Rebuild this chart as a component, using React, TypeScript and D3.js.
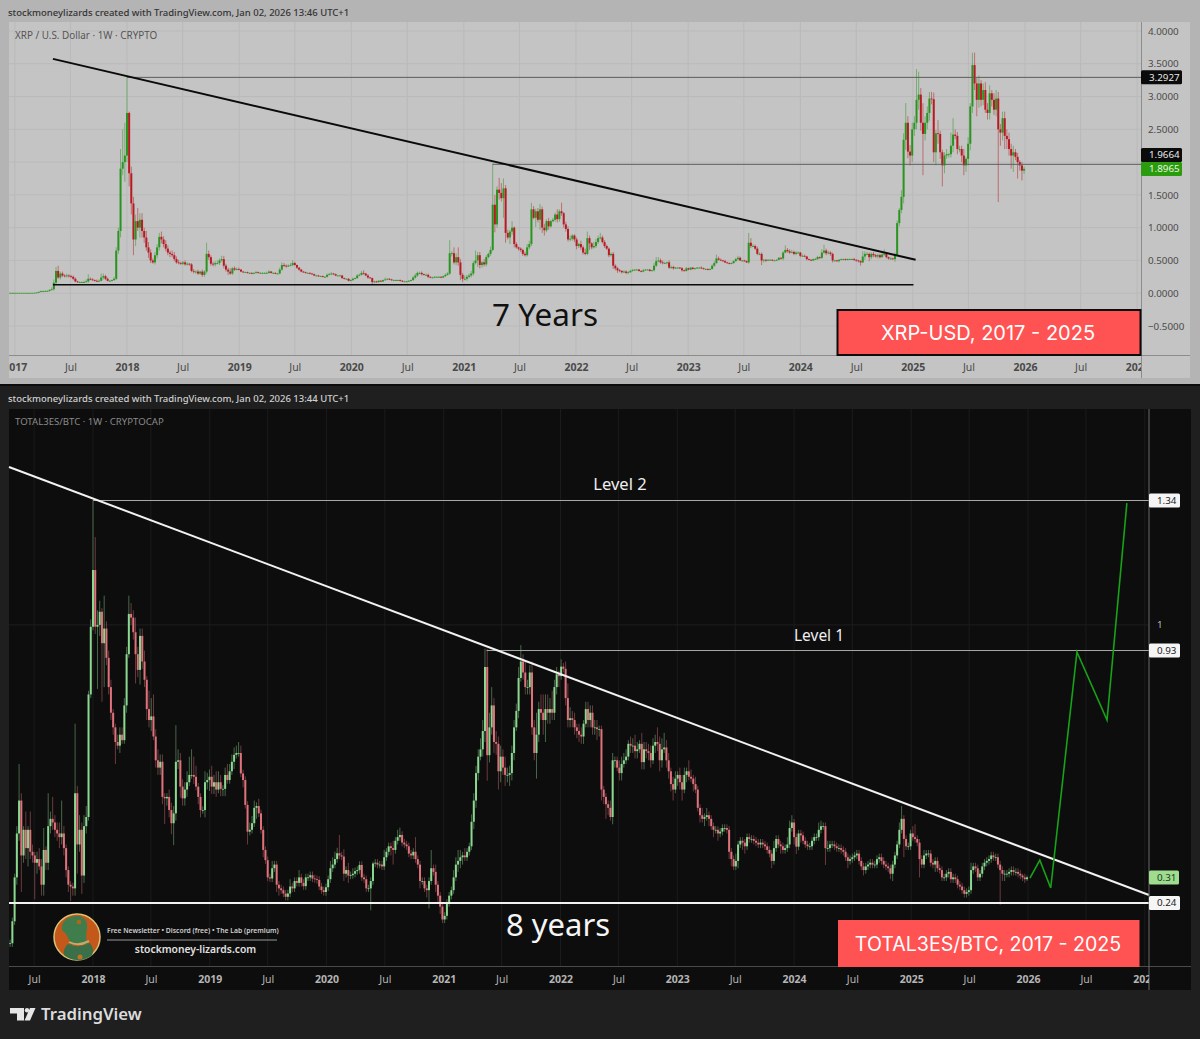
// @ts-nocheck
import React, { useEffect, useRef } from "react";
import * as d3 from "d3";

// XRP / USD weekly, first candle is the week of 2016-12-05
const xrpClose = [
  .006, .006, .006, .006,
  .006, .006, .006, .006, .006, .006, .006, .006, .006, .008, .01, .02, .03,
  .03, .035, .035, .05, .06, .16, .34, .24, .30, .27, .26, .27, .26,
  .25, .22, .18, .17, .17, .17, .17, .18, .22, .21, .20, .19, .18,
  .19, .24, .26, .22, .19, .19, .20, .22, .65, .95, 1.9, 2.0, 2.1,
  // 2018
  2.75, 1.83, 1.37, .82, 1.1, 1.0, 1.12, .95, .85, .7, .62, .50, .47,
  .58, .70, .86, .82, .75, .68, .62, .6, .58, .52, .47, .46, .45,
  .47, .44, .45, .44, .34, .33, .33, .30, .33, .28, .33, .6, .55,
  .45, .44, .46, .46, .50, .52, .42, .36, .33, .30, .38, .36, .37,
  // 2019
  .36, .33, .32, .32, .31, .31, .30, .31, .32, .31, .31, .31, .31,
  .31, .33, .31, .31, .30, .30, .36, .43, .42, .41, .42, .43, .46,
  .43, .39, .36, .33, .32, .31, .31, .30, .29, .27, .27, .26, .26,
  .25, .25, .28, .29, .30, .29, .27, .27, .27, .23, .22, .22, .19,
  // 2020
  .20, .22, .23, .27, .28, .31, .30, .27, .24, .23, .17, .18, .17,
  .19, .18, .20, .21, .22, .21, .20, .20, .20, .20, .19, .18, .18,
  .18, .19, .20, .24, .27, .31, .31, .29, .28, .28, .25, .24, .24,
  .25, .25, .25, .24, .26, .28, .30, .61, .61, .47, .55, .47, .28,
  // 2021
  .22, .22, .25, .27, .30, .46, .50, .58, .43, .47, .44, .55, .60,
  .66, 1.35, 1.05, 1.58, 1.53, 1.45, 1.6, .92, .85, .94, 1.0, .75, .70,
  .68, .66, .6, .58, .7, .75, 1.28, 1.15, 1.25, 1.12, 1.28, 1.0, .96,
  1.1, 1.02, 1.1, 1.12, 1.2, 1.13, 1.25, 1.22, 1.05, .98, .82, .83, .88,
  // 2022
  .82, .72, .75, .70, .62, .60, .84, .76, .70, .72, .78, .84, .85,
  .78, .72, .68, .58, .60, .42, .38, .35, .34, .32, .33, .31, .32,
  .34, .35, .36, .36, .34, .33, .35, .36, .36, .34, .35, .42, .49,
  .50, .47, .46, .46, .47, .39, .40, .38, .39, .39, .38, .35, .34,
  // 2023
  .38, .36, .39, .37, .38, .39, .39, .38, .37, .37, .36, .37, .42,
  .46, .53, .51, .50, .49, .47, .46, .45, .46, .49, .52, .54, .50,
  .50, .49, .47, .77, .72, .72, .68, .60, .60, .50, .51, .50, .51,
  .51, .50, .50, .51, .54, .53, .62, .66, .64, .62, .63, .60, .62,
  // 2024
  .62, .57, .57, .56, .52, .51, .50, .52, .52, .55, .54, .62, .65,
  .61, .62, .60, .50, .50, .49, .51, .52, .52, .51, .52, .52, .52,
  .51, .50, .49, .47, .56, .60, .60, .55, .60, .58, .56, .58, .55,
  .59, .60, .55, .53, .53, .52, .58, 1.07, 1.27, 1.47, 2.34, 2.60, 2.16,
  // 2025
  2.10, 2.50, 2.60, 2.95, 3.03, 2.60, 2.43, 2.60, 2.75, 2.97, 2.96, 2.15, 2.44,
  2.43, 2.15, 1.95, 2.10, 2.12, 2.12, 2.25, 2.42, 2.40, 2.20, 2.20, 2.10, 1.95,
  2.05, 2.28, 2.85, 3.48, 3.20, 2.95, 3.20, 2.95, 3.10, 2.80, 2.75, 3.05, 2.95,
  2.80, 2.97, 2.50, 2.45, 2.67, 2.40, 2.35, 2.20, 2.10, 2.15, 2.08, 2.00, 1.95, 1.87, 1.8965,
];

const xrpWickUp = [
  0, 0, 0, 0,
  0, 0, 0, 0, 0, 0, 0, 0, 0, 0, .004, .01, .01,
  .01, .01, .01, .01, .03, .05, .06, .08, .03, .03, .02, .03, .02,
  .02, .02, .02, .01, .01, .01, .02, .03, .07, .02, .02, .01, .02,
  .02, .06, .04, .02, .02, .01, .01, .03, .05, .05, .3, .5, .5,
  // 2018
  .55, .02, .1, .1, .1, .2, .1, .1, .05, .1, .08, .05, .03,
  .05, .05, .06, .08, .05, .06, .05, .03, .05, .05, .04, .04, .02,
  .02, .03, .02, .01, .02, .03, .02, .03, .01, .03, .02, .17, .05,
  .03, .03, .03, .04, .03, .05, .05, .03, .03, .05, .02, .03, .02,
  // 2019
  .02, .01, .01, .01, .01, .01, .01, .01, .02, .01, .01, .01, .01,
  .02, .02, .01, .01, .01, .01, .03, .04, .03, .02, .02, .03, .04,
  .02, .01, .01, .01, .01, .01, .01, .01, .01, .01, .01, .01, .01,
  .01, .01, .02, .02, .02, .01, .01, .01, .01, .01, .01, .01, .01,
  // 2020
  .01, .02, .01, .02, .02, .03, .04, .01, .02, .01, .01, .01, .01,
  .01, .01, .01, .03, .01, .01, .01, .01, .01, .01, .01, .01, .01,
  .01, .01, .01, .02, .03, .02, .02, .02, .01, .02, .02, .01, .01,
  .01, .01, .01, .01, .01, .02, .02, .20, .03, .09, .06, .15, .05,
  // 2021
  .03, .05, .03, .03, .04, .03, .15, .05, .05, .02, .05, .03, .02,
  .05, .63, .15, .05, .18, .15, .15, .05, .05, .03, .1, .02, .03,
  .01, .02, .02, .03, .05, .05, .1, .05, .04, .05, .08, .04, .06,
  .03, .05, .02, .03, .03, .08, .03, .13, .02, .04, .04, .05, .02,
  // 2022
  .02, .03, .02, .05, .03, .06, .1, .04, .02, .06, .05, .04, .07,
  .03, .03, .02, .02, .02, .03, .02, .02, .02, .01, .02, .02, .02,
  .02, .02, .01, .01, .01, .01, .02, .01, .01, .01, .01, .04, .06,
  .05, .03, .03, .02, .01, .03, .02, .02, .01, .01, .01, .02, .01,
  // 2023
  .02, .01, .01, .01, .01, .01, .01, .02, .01, .01, .01, .01, .02,
  .03, .06, .03, .02, .01, .02, .01, .01, .01, .01, .02, .03, .02,
  .01, .01, .01, .15, .07, .03, .02, .03, .02, .02, .01, .01, .01,
  .01, .01, .01, .01, .01, .01, .02, .07, .03, .03, .03, .02, .02,
  // 2024
  .02, .01, .02, .02, .01, .01, .01, .01, .02, .02, .01, .05, .09,
  .03, .03, .02, .02, .01, .01, .01, .01, .01, .01, .01, .01, .01,
  .02, .01, .01, .01, .08, .04, .03, .02, .02, .03, .02, .02, .02,
  .02, .07, .02, .01, .02, .01, .04, .04, .03, .1, .1, .30, .1,
  // 2025
  .1, .1, .1, .47, .35, .1, .3, .1, .1, .1, .1, .1, .05,
  .2, .05, .04, .05, .08, .02, .2, .25, .08, .06, .05, .05, .1,
  .03, .1, .05, .19, .19, .08, .12, .05, .1, .12, .1, .12, .05,
  .1, .13, .1, .08, .1, .1, .1, .1, .08, .1, .05, .06, .03, .05, .03,
];

const xrpWickDown = [
  0, 0, 0, 0,
  0, 0, 0, 0, 0, 0, 0, 0, 0, 0, .002, .005, .005,
  .005, .005, .005, .01, .01, .02, .03, .02, .03, .02, .02, .02, .02,
  .02, .02, .01, .01, .01, .01, .01, .01, .02, .01, .01, .01, .01,
  .01, .01, .03, .02, .01, .01, .01, .01, .02, .05, .1, .1, .3,
  // 2018
  .1, .2, .17, .24, .1, .05, .15, .1, .08, .05, .08, .04, .02,
  .03, .05, .05, .06, .05, .04, .04, .05, .03, .03, .02, .02, .02,
  .02, .02, .02, .02, .02, .03, .03, .02, .02, .03, .03, .03, .04,
  .03, .03, .03, .02, .03, .02, .04, .03, .05, .02, .02, .02, .01,
  // 2019
  .01, .01, .01, .01, .01, .01, .01, .01, .01, .01, .01, .01, .01,
  .01, .01, .01, .01, .01, .01, .01, .02, .02, .02, .01, .01, .02,
  .01, .02, .02, .01, .01, .01, .01, .01, .01, .01, .01, .01, .01,
  .01, .01, .01, .01, .01, .01, .01, .01, .01, .01, .01, .01, .01,
  // 2020
  .01, .01, .01, .01, .01, .01, .02, .01, .02, .01, .04, .02, .01,
  .01, .01, .01, .01, .01, .01, .01, .01, .01, .01, .01, .01, .01,
  .01, .01, .01, .01, .02, .02, .02, .02, .01, .01, .02, .01, .01,
  .01, .01, .01, .01, .01, .01, .01, .02, .05, .03, .04, .05, .08,
  // 2021
  .05, .02, .03, .02, .03, .03, .02, .1, .05, .04, .03, .03, .02,
  .03, .02, .12, .05, .1, .05, .3, .15, .03, .1, .05, .05, .02,
  .03, .03, .03, .02, .02, .03, .03, .02, .14, .04, .15, .08, .08,
  .03, .05, .02, .02, .03, .05, .04, .04, .05, .04, .03, .03, .03,
  // 2022
  .04, .05, .03, .04, .03, .02, .02, .1, .03, .02, .03, .03, .02,
  .02, .03, .02, .03, .02, .05, .03, .04, .02, .02, .01, .02, .02,
  .01, .01, .01, .01, .01, .01, .01, .01, .01, .01, .01, .02, .02,
  .02, .02, .02, .01, .02, .02, .02, .02, .01, .01, .01, .02, .01,
  // 2023
  .01, .01, .01, .01, .01, .01, .01, .01, .01, .01, .01, .01, .01,
  .02, .01, .01, .01, .01, .01, .01, .01, .01, .01, .01, .02, .01,
  .02, .01, .01, .02, .03, .01, .02, .02, .02, .07, .03, .02, .01,
  .01, .01, .01, .01, .01, .02, .03, .01, .02, .02, .01, .02, .02,
  // 2024
  .02, .02, .01, .01, .02, .01, .01, .01, .01, .01, .02, .02, .02,
  .03, .02, .03, .03, .02, .01, .02, .01, .02, .01, .01, .01, .01,
  .02, .02, .02, .05, .01, .05, .02, .06, .03, .03, .02, .03, .02,
  .01, .02, .02, .02, .02, .01, .04, .02, .05, .05, .1, .15, .1,
  // 2025
  .15, .1, .1, .1, .15, .12, .63, .1, .1, .12, .08, .15, .2,
  .15, .1, .32, .12, .05, .05, .05, .1, .05, .08, .05, .1, .15,
  .1, .1, .1, .1, .1, .25, .12, .1, .08, .05, .1, .1, .1,
  .08, .1, 1.11, .2, .12, .2, .15, .1, .2, .25, .05, .25, .08, .15, .05,
];

// TOTAL3ES/BTC weekly, first candle is the week of 2017-04-17
const altClose = [
  .13, .19, .31, .43, .52, .37, .44, .39, .44, .38, .37, .35, .36,
  .34, .29, .385, .35, .45, .47, .46, .44, .43, .42, .43, .39, .33,
  .29, .285, .28, .54, .40, .44, .315, .45, .475, .81, .995, 1.15, .995,
  1.0, 1.036, .95, .99, .91, .83, .76, .72, .68, .67, .70, .685, .78,
  .92, 1.03, 1.02, .98, .92, .877, .97, .90, .85, .77, .74, .75, .695,
  .63, .61, .626, .53, .526, .53, .494, .458, .485, .626, .63, .558, .526,
  .55, .57, .59, .59, .585, .558, .53, .494, .494, .57, .576, .585, .558,
  .57, .55, .57, .552, .552, .59, .576, .60, .626, .645, .65, .65, .594,
  .576, .508, .435, .44, .458, .50, .505, .485, .44, .385, .357, .31, .307,
  .335, .345, .29, .28, .275, .266, .257, .266, .285, .28, .30, .295, .31,
  .295, .286, .31, .31, .316, .307, .305, .303, .285, .275, .27, .283, .305,
  .335, .345, .36, .376, .37, .367, .32, .33, .315, .316, .32, .327, .33,
  .344, .31, .305, .28, .28, .30, .348, .35, .345, .345, .34, .365, .38,
  .395, .39, .385, .41, .42, .426, .405, .40, .395, .375, .37, .38, .36,
  .345, .30, .30, .28, .275, .30, .335, .325, .29, .26, .23, .195, .205,
  .24, .26, .275, .31, .345, .355, .365, .37, .365, .38, .395, .462, .52,
  .595, .64, .66, .71, .885, .644, .72, .78, .68, .675, .60, .64, .61,
  .59, .59, .595, .65, .72, .765, .855, .90, .87, .83, .83, .87, .72,
  .65, .70, .77, .76, .74, .77, .76, .77, .76, .83, .865, .86, .886,
  .88, .80, .74, .745, .74, .72, .71, .70, .695, .73, .77, .74, .76,
  .72, .72, .715, .715, .55, .53, .51, .50, .475, .63, .63, .61, .595,
  .62, .63, .64, .675, .67, .67, .655, .66, .675, .625, .66, .655, .65,
  .63, .67, .68, .675, .63, .66, .665, .63, .60, .565, .55, .58, .59,
  .57, .55, .59, .60, .585, .58, .565, .55, .50, .48, .47, .475, .48,
  .47, .45, .44, .44, .43, .435, .445, .445, .44, .38, .36, .34, .355,
  .40, .41, .405, .395, .42, .415, .415, .41, .405, .40, .405, .40, .395,
  .385, .375, .355, .39, .415, .40, .395, .385, .39, .40, .445, .46, .42,
  .394, .43, .425, .41, .40, .395, .395, .41, .42, .42, .44, .45, .45,
  .39, .39, .40, .40, .395, .39, .39, .385, .38, .365, .355, .36, .365,
  .37, .375, .355, .34, .33, .34, .345, .35, .345, .345, .36, .365, .355,
  .345, .34, .335, .32, .345, .37, .40, .44, .47, .415, .395, .395, .43,
  .42, .415, .405, .36, .345, .37, .375, .375, .35, .345, .355, .335, .33,
  .31, .31, .32, .325, .305, .31, .305, .29, .285, .275, .265, .27, .275,
  .33, .34, .335, .31, .32, .34, .35, .355, .36, .37, .365, .365, .345,
  .33, .32, .32, .32, .325, .33, .325, .325, .32, .315, .31, .305, .31,
];

const altWickUp = [
  .01, .01, .01, .02, .10, .02, .01, .05, .01, .05, .02, .01, .02,
  .03, .02, .06, .01, .09, .02, .06, .02, .02, .03, .09, .02, .01,
  .01, .01, .01, .19, .02, .04, .02, .03, .03, .01, .02, .19, .09,
  .04, .03, .01, .09, .02, .02, .02, .01, .01, .02, .02, .02, .02,
  .02, .05, .03, .02, .04, .02, .02, .02, .03, .01, .05, .05, .06,
  .02, .03, .02, .02, .01, .01, .02, .02, .02, .10, .03, .02, .02,
  .02, .03, .05, .07, .05, .03, .01, .01, .01, .03, .02, .02, .03,
  .02, .03, .03, .02, .01, .02, .03, .02, .02, .02, .02, .03, .02,
  .01, .01, .01, .02, .02, .02, .01, .02, .01, .01, .01, .01, .01,
  .02, .01, .01, .01, .01, .01, .01, .01, .02, .01, .01, .01, .02,
  .01, .01, .01, .01, .01, .01, .01, .01, .01, .01, .01, .01, .01,
  .02, .02, .02, .015, .05, .01, .02, .01, .02, .01, .015, .01, .01,
  .01, .01, .01, .01, .01, .01, .005, .01, .01, .01, .01, .02, .01,
  .01, .01, .02, .01, .02, .02, .01, .01, .01, .01, .01, .01, .04,
  .01, .01, .01, .01, .01, .01, .05, .01, .02, .01, .01, .01, .01,
  .01, .01, .01, .02, .02, .03, .02, .01, .02, .01, .01, .02, .02,
  .02, .02, .03, .03, .05, .05, .04, .05, .02, .03, .02, .03, .02,
  .03, .02, .02, .02, .02, .02, .03, .045, .02, .03, .02, .02, .03,
  .02, .06, .02, .04, .05, .04, .04, .03, .05, .02, .02, .01, .02,
  .01, .02, .04, .03, .02, .02, .01, .02, .02, .01, .02, .02, .02,
  .02, .02, .02, .01, .01, .01, .01, .01, .02, .02, .01, .01, .02,
  .02, .02, .02, .01, .02, .02, .03, .02, .01, .03, .02, .02, .02,
  .02, .02, .02, .04, .02, .03, .04, .02, .02, .01, .02, .02, .01,
  .02, .02, .02, .01, .03, .02, .01, .02, .01, .01, .02, .01, .02,
  .01, .01, .01, .01, .01, .01, .01, .01, .01, .01, .01, .01, .02,
  .01, .01, .01, .01, .01, .01, .01, .01, .01, .01, .01, .01, .01,
  .01, .01, .01, .02, .01, .01, .01, .01, .01, .02, .02, .02, .01,
  .01, .01, .01, .01, .01, .01, .01, .01, .01, .01, .02, .015, .01,
  .01, .02, .01, .01, .01, .01, .01, .01, .01, .01, .01, .01, .01,
  .01, .01, .01, .01, .01, .01, .01, .01, .01, .01, .01, .01, .01,
  .01, .01, .01, .01, .01, .01, .01, .02, .035, .01, .01, .01, .01,
  .02, .035, .01, .01, .01, .015, .01, .01, .01, .01, .01, .01, .01,
  .01, .01, .01, .01, .01, .01, .01, .01, .01, .01, .01, .01, .01,
  .02, .01, .01, .01, .01, .01, .01, .01, .01, .01, .01, .01, .01,
  .01, .01, .01, .01, .01, .01, .01, .01, .01, .01, .005, .01, .005,
];

const altWickDown = [
  .01, .01, .01, .02, .02, .10, .02, .03, .05, .02, .02, .10, .03,
  .01, .03, .03, .02, .02, .02, .02, .02, .02, .03, .02, .02, .02,
  .02, .04, .02, .02, .08, .02, .05, .02, .02, .01, .01, .01, .02,
  .17, .03, .16, .12, .02, .02, .02, .02, .06, .01, .02, .01, .01,
  .02, .01, .02, .02, .08, .02, .04, .02, .02, .03, .02, .03, .01,
  .02, .02, .02, .02, .07, .02, .02, .03, .06, .02, .02, .03, .02,
  .02, .02, .01, .01, .02, .01, .02, .02, .01, .02, .02, .03, .02,
  .02, .02, .01, .02, .02, .02, .01, .01, .01, .02, .01, .01, .01,
  .02, .01, .035, .01, .01, .01, .03, .01, .01, .02, .01, .01, .01,
  .01, .01, .02, .02, .01, .01, .01, .01, .01, .01, .01, .01, .01,
  .01, .01, .01, .01, .01, .01, .01, .01, .01, .01, .01, .01, .01,
  .01, .01, .01, .01, .01, .01, .02, .01, .02, .01, .01, .01, .01,
  .01, .01, .01, .01, .01, .06, .01, .01, .01, .01, .01, .01, .01,
  .01, .02, .04, .01, .01, .01, .01, .01, .01, .01, .01, .01, .01,
  .01, .02, .01, .01, .02, .05, .01, .01, .02, .02, .02, .01, .01,
  .01, .01, .01, .01, .01, .02, .02, .02, .01, .01, .01, .01, .02,
  .02, .02, .01, .02, .03, .07, .02, .02, .03, .03, .05, .03, .02,
  .03, .02, .03, .02, .02, .01, .02, .01, .02, .02, .02, .02, .02,
  .02, .07, .02, .02, .04, .06, .03, .03, .02, .02, .02, .03, .01,
  .01, .02, .02, .02, .02, .02, .02, .02, .02, .02, .01, .02, .02,
  .02, .02, .03, .02, .03, .02, .04, .02, .01, .02, .02, .01, .02,
  .02, .01, .01, .01, .02, .02, .02, .02, .01, .02, .02, .02, .02,
  .02, .01, .02, .02, .03, .02, .01, .02, .02, .02, .03, .01, .02,
  .02, .03, .01, .02, .01, .01, .02, .01, .01, .02, .01, .02, .01,
  .02, .01, .02, .01, .02, .01, .01, .01, .01, .02, .02, .01, .01,
  .02, .01, .02, .02, .01, .01, .01, .01, .01, .01, .01, .01, .01,
  .01, .01, .02, .01, .01, .01, .02, .01, .01, .01, .01, .01, .02,
  .02, .01, .02, .01, .01, .01, .01, .01, .01, .01, .01, .01, .01,
  .046, .01, .01, .01, .01, .01, .01, .01, .01, .01, .02, .01, .01,
  .01, .01, .01, .01, .015, .01, .01, .01, .01, .01, .01, .01, .01,
  .01, .01, .01, .015, .02, .01, .01, .01, .01, .05, .01, .01, .01,
  .01, .01, .01, .05, .01, .01, .01, .01, .01, .01, .02, .01, .01,
  .01, .01, .01, .01, .01, .01, .01, .01, .01, .01, .01, .01, .01,
  .01, .01, .01, .01, .01, .01, .01, .01, .01, .01, .01, .01, .01,
  .095, .02, .02, .01, .01, .01, .01, .01, .01, .01, .01, .01, .005,
];

const xrpTrendDates = [new Date(2017, 4, 5), new Date(2025, 0, 10)];
const xrpTrendValues = [3.575, 0.51];
const xrpBaseDates = [new Date(2017, 4, 5), new Date(2025, 0, 3)];
const xrpBaseValue = 0.13;
const forecastDates = [
  new Date(2026, 0, 7),
  new Date(2026, 1, 7),
  new Date(2026, 2, 13),
  new Date(2026, 5, 3),
  new Date(2026, 8, 5),
  new Date(2026, 10, 6),
];
const forecastValues = [0.308, 0.357, 0.281, 0.926, 0.74, 1.333];

const xrpPriceTicks = [4, 3.5, 3, 2.5, 2, 1.5, 1, 0.5, 0, -0.5];
const timeTicks = d3.range(2017, 2028).flatMap((yr) => [
  new Date(yr, 0, 1),
  new Date(yr, 6, 1),
]);

const buildCandles = (closes, up, down, weeksBefore2018) =>
  closes.map((close, i) => {
    const open = i ? closes[i - 1] : close;
    return {
      date: d3.timeWeek.offset(new Date(2018, 0, 1), i - weeksBefore2018),
      open,
      close,
      high: Math.max(open, close) + (up[i] || 0),
      low: Math.max(0, Math.min(open, close) - (down[i] || 0)),
    };
  });

const drawCandles = (g, data, x, y, upColor, downColor, wickOpacity) => {
  const color = (d) => (d.close >= d.open ? upColor : downColor);
  g.style("filter", "blur(0.3px)");
  g.selectAll(".wick")
    .data(data)
    .join("line")
    .attr("x1", (d) => x(d.date))
    .attr("x2", (d) => x(d.date))
    .attr("y1", (d) => y(d.high))
    .attr("y2", (d) => y(d.low))
    .attr("stroke", color)
    .attr("stroke-opacity", wickOpacity)
    .attr("stroke-width", 1);
  g.selectAll(".body")
    .data(data)
    .join("rect")
    .attr("x", (d) => x(d.date) - 1)
    .attr("width", 2)
    .attr("y", (d) => y(Math.max(d.open, d.close)))
    .attr("height", (d) =>
      Math.max(0.8, Math.abs(y(d.open) - y(d.close))),
    )
    .attr("fill", color);
};

const drawTimeAxis = (svg, x, y, color, clipId, x0, x1) => {
  const axis = d3
    .axisBottom(x)
    .tickValues(timeTicks.filter((d) => x(d) > x0 - 12 && x(d) < x1 + 12))
    .tickSize(0)
    .tickPadding(0)
    .tickFormat((d) => (d.getMonth() === 0 ? d.getFullYear() : "Jul"));
  const g = svg
    .append("g")
    .attr("clip-path", `url(#${clipId})`)
    .append("g")
    .attr("transform", `translate(0,${y})`)
    .call(axis);
  g.select(".domain").remove();
  g.selectAll("text")
    .attr("font-family", "Noto Sans")
    .attr("font-size", 10.5)
    .attr("font-weight", (d) => (d.getMonth() === 0 ? 700 : 400))
    .attr("fill", color);
};

const addText = (svg, x, y, str, size, color, opts = {}) =>
  svg
    .append("text")
    .attr("x", x)
    .attr("y", y)
    .attr("font-family", opts.family || "Noto Sans")
    .attr("font-size", size)
    .attr("font-weight", opts.weight || 400)
    .attr("text-anchor", opts.anchor || "start")
    .attr("fill", color)
    .text(str);

const priceLabel = (svg, x0, x1, yc, str, fill, color) => {
  svg
    .append("rect")
    .attr("x", x0)
    .attr("y", yc - 7)
    .attr("width", x1 - x0)
    .attr("height", 14)
    .attr("rx", 1.5)
    .attr("fill", fill);
  addText(svg, x0 + 8, yc + 3.4, str, 9.8, color);
};

const App = () => {
  const svgRef = useRef();

  useEffect(() => {
    const svg = d3.select(svgRef.current);
    svg.selectAll("*").remove();

    const defs = svg.append("defs");
    const clip = (id, x, y, w, h) =>
      defs
        .append("clipPath")
        .attr("id", id)
        .append("rect")
        .attr("x", x)
        .attr("y", y)
        .attr("width", w)
        .attr("height", h);
    clip("top-time", 9, 356, 1132, 22);
    clip("alt-time", 9, 967, 1140, 23);
    clip("top-plot", 9, 22, 1132, 333);
    clip("alt-plot", 9, 409, 1140, 557);

    // ---- backgrounds
    svg.append("rect").attr("width", 1200).attr("height", 1039).attr("fill", "#1f1f1f");
    svg.append("rect").attr("width", 1200).attr("height", 384).attr("fill", "#b4b4b4");
    svg.append("rect").attr("x", 9).attr("y", 22).attr("width", 1181).attr("height", 356).attr("fill", "#c4c4c4");
    svg.append("rect").attr("x", 0).attr("y", 384).attr("width", 1200).attr("height", 2).attr("fill", "#0c0c0c");
    svg.append("rect").attr("x", 9).attr("y", 409).attr("width", 1182).attr("height", 581).attr("fill", "#0d0d0d");

    // ---- XRP panel
    const xTop = d3
      .scaleTime()
      .domain([new Date(2018, 0, 1), new Date(2026, 0, 1)])
      .range([127, 1025]);
    const yTop = d3.scaleLinear().domain([4, -0.5]).range([31, 326]);

    const gridTop = svg.append("g").attr("clip-path", "url(#top-plot)");
    gridTop
      .selectAll(".v")
      .data(timeTicks)
      .join("line")
      .attr("x1", (d) => xTop(d))
      .attr("x2", (d) => xTop(d))
      .attr("y1", 22)
      .attr("y2", 355)
      .attr("stroke", "#b9b9b9");
    gridTop
      .selectAll(".h")
      .data(xrpPriceTicks)
      .join("line")
      .attr("x1", 9)
      .attr("x2", 1141)
      .attr("y1", (d) => yTop(d))
      .attr("y2", (d) => yTop(d))
      .attr("stroke", "#bababa");

    drawCandles(
      svg.append("g").attr("clip-path", "url(#top-plot)"),
      buildCandles(xrpClose, xrpWickUp, xrpWickDown, 56),
      xTop,
      yTop,
      "#2a9420",
      "#b81a22",
      0.5,
    );

    // levels
    const levels = [
      { from: new Date(2018, 0, 1), value: 3.2927 },
      { from: new Date(2021, 3, 5), value: 1.9664 },
    ];
    svg
      .selectAll(".lvl")
      .data(levels)
      .join("line")
      .attr("x1", (d) => xTop(d.from))
      .attr("x2", 1141)
      .attr("y1", (d) => yTop(d.value))
      .attr("y2", (d) => yTop(d.value))
      .attr("stroke", "#5c5c5c")
      .attr("stroke-width", 1);

    const topLine = d3
      .line()
      .x((d) => xTop(d[0]))
      .y((d) => yTop(d[1]));
    svg
      .append("path")
      .attr("d", topLine(d3.zip(xrpTrendDates, xrpTrendValues)))
      .attr("fill", "none")
      .attr("stroke", "#0a0a0a")
      .attr("stroke-width", 2);
    svg
      .append("path")
      .attr("d", topLine(xrpBaseDates.map((d) => [d, xrpBaseValue])))
      .attr("fill", "none")
      .attr("stroke", "#0a0a0a")
      .attr("stroke-width", 1.6);

    // axis frame
    svg.append("line").attr("x1", 1141.5).attr("x2", 1141.5).attr("y1", 22).attr("y2", 378).attr("stroke", "#8c8c8c");
    svg.append("line").attr("x1", 9).attr("x2", 1190).attr("y1", 355.5).attr("y2", 355.5).attr("stroke", "#8c8c8c");

    const yAxisTop = svg
      .append("g")
      .attr("transform", "translate(1141,0)")
      .call(
        d3
          .axisRight(yTop)
          .tickValues(xrpPriceTicks)
          .tickSize(0)
          .tickPadding(7)
          .tickFormat((d) => (d < 0 ? "\u2212" : "") + Math.abs(d).toFixed(4)),
      );
    yAxisTop.select(".domain").remove();
    yAxisTop
      .selectAll("text")
      .attr("font-family", "Noto Sans")
      .attr("font-size", 9.8)
      .attr("fill", "#4a4a4a");

    drawTimeAxis(svg, xTop, 364, "#4a4a4a", "top-time", 9, 1141);

    priceLabel(svg, 1141, 1182, yTop(3.2927), "3.2927", "#0b0b0b", "#e8e8e8");
    priceLabel(svg, 1141, 1182, yTop(1.8965) - 14, "1.9664", "#0b0b0b", "#e8e8e8");
    priceLabel(svg, 1141, 1182, yTop(1.8965), "1.8965", "#2b9c0e", "#e8f5e0");

    addText(svg, 8, 16, "stockmoneylizards created with TradingView.com, Jan 02, 2026 13:46 UTC+1", 9.5, "#333333", { weight: 500 });
    addText(svg, 15, 38.5, "XRP / U.S. Dollar \u00b7 1W \u00b7 CRYPTO", 9.9, "#555555");
    addText(svg, 545, 326, "7 Years", 31.5, "#111111", { anchor: "middle" });

    svg.append("rect").attr("x", 837.5).attr("y", 310).attr("width", 303).attr("height", 45).attr("fill", "#ff5252").attr("stroke", "#0c0c0c").attr("stroke-width", 2);
    addText(svg, 988, 340, "XRP-USD, 2017 - 2025", 20, "#ffffff", { anchor: "middle", family: "Inter" });

    // ---- TOTAL3ES/BTC panel
    const xAlt = d3
      .scaleTime()
      .domain([new Date(2018, 0, 1), new Date(2026, 0, 1)])
      .range([93, 1028]);
    const yAlt = d3.scaleLinear().domain([1.34, 0.24]).range([500.5, 903]);

    const gridAlt = svg.append("g").attr("clip-path", "url(#alt-plot)");
    gridAlt
      .selectAll(".v")
      .data(timeTicks)
      .join("line")
      .attr("x1", (d) => xAlt(d))
      .attr("x2", (d) => xAlt(d))
      .attr("y1", 409)
      .attr("y2", 966)
      .attr("stroke", "#1b1b1b");
    gridAlt
      .append("line")
      .attr("x1", 9)
      .attr("x2", 1149)
      .attr("y1", yAlt(1))
      .attr("y2", yAlt(1))
      .attr("stroke", "#1e1e1e");

    drawCandles(
      svg.append("g").attr("clip-path", "url(#alt-plot)"),
      buildCandles(altClose, altWickUp, altWickDown, 37),
      xAlt,
      yAlt,
      "#8bd890",
      "#e0727c",
      0.45,
    );

    svg
      .selectAll(".altlvl")
      .data([
        { from: new Date(2018, 0, 1), value: 1.34 },
        { from: new Date(2021, 4, 15), value: 0.93 },
      ])
      .join("line")
      .attr("x1", (d) => xAlt(d.from))
      .attr("x2", 1149)
      .attr("y1", (d) => yAlt(d.value))
      .attr("y2", (d) => yAlt(d.value))
      .attr("stroke", "#a8a8a8")
      .attr("stroke-width", 1);

    svg.append("line").attr("x1", 9).attr("x2", 1149).attr("y1", yAlt(0.24)).attr("y2", yAlt(0.24)).attr("stroke", "#f2f2f2").attr("stroke-width", 2);
    // white resistance, ends on the price axis
    svg.append("line").attr("x1", 9).attr("y1", 467).attr("x2", 1149).attr("y2", 895).attr("stroke", "#f2f2f2").attr("stroke-width", 2);

    svg
      .append("path")
      .attr(
        "d",
        d3
          .line()
          .x((d) => xAlt(d[0]))
          .y((d) => yAlt(d[1]))(d3.zip(forecastDates, forecastValues)),
      )
      .attr("fill", "none")
      .attr("stroke", "#17a317")
      .attr("stroke-width", 1.6);

    svg.append("line").attr("x1", 9).attr("x2", 1191).attr("y1", 966.5).attr("y2", 966.5).attr("stroke", "#4a4a4a");
    svg.append("line").attr("x1", 1149).attr("x2", 1149).attr("y1", 409).attr("y2", 990).attr("stroke", "#6a6a6a");

    drawTimeAxis(svg, xAlt, 975.5, "#b5b5b5", "alt-time", 9, 1149);

    addText(svg, 1157, yAlt(1) + 3.5, "1", 9.8, "#b5b5b5");
    priceLabel(svg, 1149, 1180, yAlt(1.34), "1.34", "#f5f5f5", "#1a1a1a");
    priceLabel(svg, 1149, 1180, yAlt(0.93), "0.93", "#f5f5f5", "#1a1a1a");
    priceLabel(svg, 1149, 1179, yAlt(0.31), "0.31", "#9fdc8f", "#1a3a1a");
    priceLabel(svg, 1149, 1180, yAlt(0.24), "0.24", "#f5f5f5", "#1a1a1a");

    addText(svg, 8, 402, "stockmoneylizards created with TradingView.com, Jan 02, 2026 13:44 UTC+1", 9.5, "#cfcfcf", { weight: 500 });
    addText(svg, 15, 425, "TOTAL3ES/BTC \u00b7 1W \u00b7 CRYPTOCAP", 9.6, "#8a8a8a");
    addText(svg, 620, 490, "Level 2", 16.5, "#efefef", { anchor: "middle" });
    addText(svg, 819, 641, "Level 1", 15.5, "#efefef", { anchor: "middle" });
    addText(svg, 558, 935.5, "8 years", 31, "#f5f5f5", { anchor: "middle" });

    svg.append("rect").attr("x", 838).attr("y", 920).attr("width", 301.5).attr("height", 47).attr("fill", "#ff5252");
    addText(svg, 988, 950.5, "TOTAL3ES/BTC, 2017 - 2025", 19.6, "#ffffff", { anchor: "middle", family: "Inter" });

    // ---- promo block
    const logo = svg.append("g");
    logo.append("circle").attr("cx", 77).attr("cy", 937).attr("r", 23).attr("fill", "#c4571a").attr("stroke", "#d9c377").attr("stroke-width", 1.5);
    logo.append("path").attr("d", "M62 925 Q66 915 80 916 Q88 919 87 928 Q85 938 88 944 L70 945 Q70 937 62 930Z").attr("fill", "#3f7d4c");
    logo.append("path").attr("d", "M68 944 Q78 949 90 943 Q95 950 92 955 Q85 961 77 960 Q70 960 64 955 Q63 948 68 944Z").attr("fill", "#3a6f48");
    logo.append("path").attr("d", "M69 942 Q78 947 89 941").attr("fill", "none").attr("stroke", "#c9a86a").attr("stroke-width", 2);
    logo.append("circle").attr("cx", 79).attr("cy", 922).attr("r", 2.3).attr("fill", "#b5641f");
    logo.append("circle").attr("cx", 80).attr("cy", 957).attr("r", 2.5).attr("fill", "#c4701f");
    addText(svg, 107, 933, "Free Newsletter \u2022 Discord (free) \u2022 The Lab (premium)", 6.8, "#d0d0d0", { weight: 600 });
    svg.append("line").attr("x1", 107).attr("x2", 277).attr("y1", 940).attr("y2", 940).attr("stroke", "#9a9a9a");
    addText(svg, 195.5, 953, "stockmoney-lizards.com", 10.3, "#e0e0e0", { anchor: "middle", weight: 600 });

    // ---- TradingView footer
    svg.append("path").attr("d", "M10 1008H24V1020.5H17V1013.5H10Z M35.5 1008L30 1020.5H24.5L30 1008Z").attr("fill", "#e6e6e6");
    svg.append("circle").attr("cx", 27).attr("cy", 1010.3).attr("r", 2.2).attr("fill", "#e6e6e6");
    addText(svg, 41, 1020, "TradingView", 16.8, "#dcdcdc", { weight: 600 });
  }, []);

  return (
    <svg
      ref={svgRef}
      width={1200}
      height={1039}
      style={{ position: "absolute", left: 0, top: 0, display: "block" }}
    ></svg>
  );
};

export default App;
